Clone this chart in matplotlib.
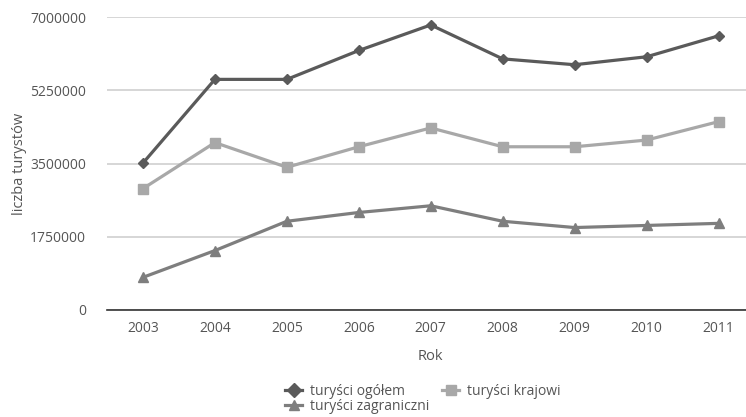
import numpy as np
import matplotlib
matplotlib.use("Agg")
import matplotlib.pyplot as plt
from matplotlib.lines import Line2D

plt.rcParams['font.family'] = ['Open Sans', 'DejaVu Sans']

years = ['2003', '2004', '2005', '2006', '2007', '2008', '2009', '2010', '2011']
ogolem = [3510000, 5510000, 5510000, 6200000, 6810000, 6000000, 5860000, 6050000, 6550000]
krajowi = [2900000, 4000000, 3410000, 3900000, 4350000, 3900000, 3900000, 4060000, 4500000]
zagraniczni = [780000, 1420000, 2120000, 2330000, 2490000, 2120000, 1970000, 2020000, 2070000]
yticks = [0, 1750000, 3500000, 5250000, 7000000]

fig = plt.figure(figsize=(7.46, 4.17), dpi=100)
ax = fig.add_axes([0.1434, 0.2566, 0.868, 0.7026])

x = np.arange(len(years))
c_og, c_kr, c_za = '#5a5a5a', '#a8a8a8', '#7e7e7e'
ax.plot(x, ogolem, color=c_og, lw=2.3, marker='D', ms=5.5, label='turyści ogółem')
ax.plot(x, krajowi, color=c_kr, lw=2.3, marker='s', ms=6.5, label='turyści krajowi')
ax.plot(x, zagraniczni, color=c_za, lw=2.3, marker='^', ms=6.5, label='turyści zagraniczni')

ax.set_xlim(-0.5, len(years) - 0.5)
ax.set_ylim(0, 7000000)
ax.set_xticks(x)
ax.set_xticklabels(years)
ax.set_yticks(yticks)
ax.set_yticklabels([str(v) for v in yticks])
ax.yaxis.grid(True, color='#cfcfcf', lw=1.2)
ax.set_axisbelow(True)
for s in ['top', 'right', 'left']:
    ax.spines[s].set_visible(False)
ax.spines['bottom'].set_color('#333333')
ax.spines['bottom'].set_linewidth(1.2)
ax.tick_params(axis='both', length=0, labelsize=10, colors='#555555', pad=8)
ax.tick_params(axis='y', pad=15)

ax.set_xlabel('Rok', fontsize=10.5, color='#555555', labelpad=9)
ax.set_ylabel('liczba turystów', fontsize=10.5, color='#555555', labelpad=2)

handles = [
    Line2D([], [], color=c_og, lw=2.3, marker='D', ms=7),
    Line2D([], [], color=c_za, lw=2.3, marker='^', ms=7),
    Line2D([], [], color=c_kr, lw=2.3, marker='s', ms=7),
]
labels = ['turyści ogółem', 'turyści zagraniczni', 'turyści krajowi']
fig.legend(handles, labels, ncol=2, loc='upper left', bbox_to_anchor=(0.375, 0.092),
           frameon=False, fontsize=10, labelcolor='#555555', handlelength=1.2,
           handletextpad=0.6, columnspacing=0.9, labelspacing=0.0, borderaxespad=0)

fig.savefig('out.png', dpi=100)
